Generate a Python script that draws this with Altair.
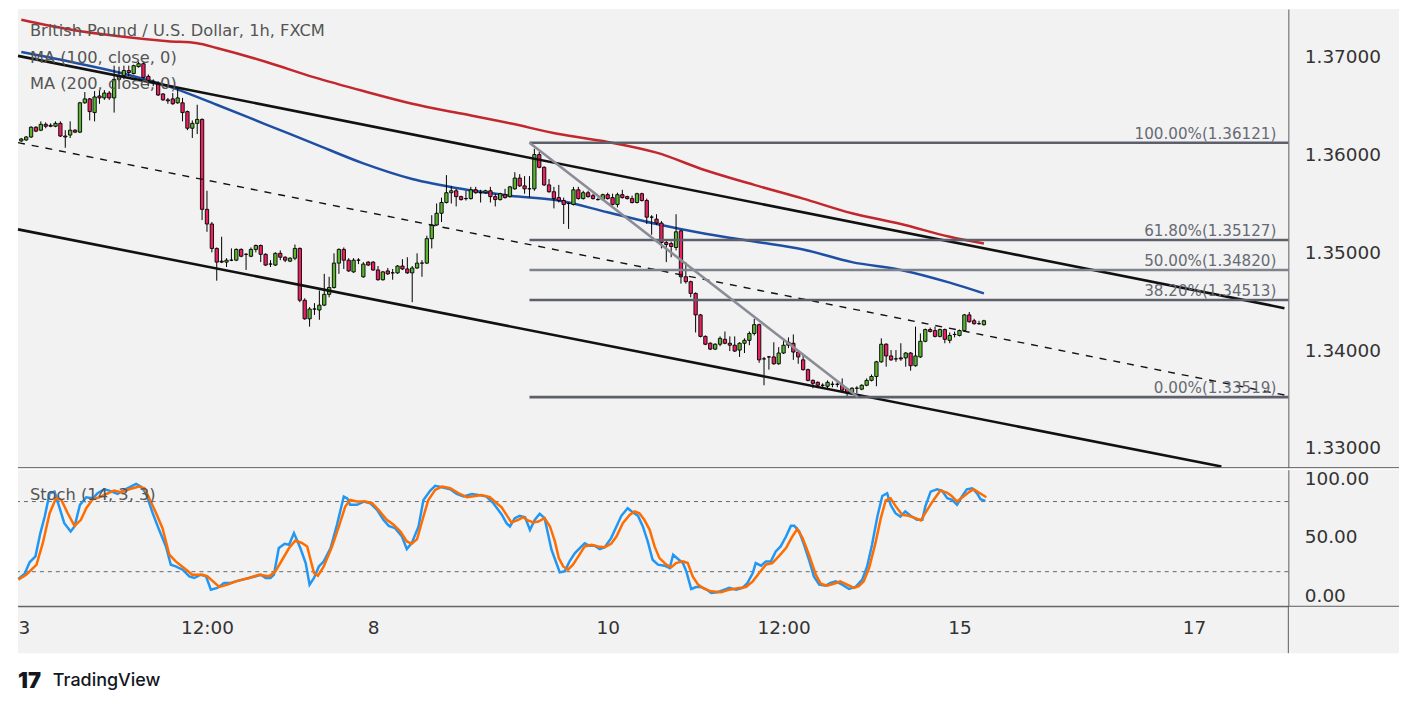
import altair as alt
import pandas as pd

# ---------------- data ----------------
OPEN = [1.3614, 1.3615, 1.3618, 1.3628, 1.3625, 1.3631, 1.3630, 1.3629, 1.3632, 1.3619,
        1.3620, 1.3625, 1.3623, 1.3653, 1.3657, 1.3643, 1.3660, 1.3658, 1.3663, 1.3658,
        1.3677, 1.3681, 1.3686, 1.3683, 1.3690, 1.3693, 1.3680, 1.3675, 1.3673, 1.3662,
        1.3656, 1.3657, 1.3653, 1.3653, 1.3644, 1.3627, 1.3632, 1.3636, 1.3544, 1.3529,
        1.3504, 1.3491, 1.3490, 1.3492, 1.3492, 1.3503, 1.3498, 1.3496, 1.3503, 1.3507,
        1.3498, 1.3488, 1.3487, 1.3499, 1.3495, 1.3491, 1.3494, 1.3504, 1.3451, 1.3432,
        1.3442, 1.3441, 1.3446, 1.3457, 1.3464, 1.3489, 1.3503, 1.3492, 1.3480, 1.3492,
        1.3475, 1.3490, 1.3490, 1.3482, 1.3472, 1.3481, 1.3479, 1.3479, 1.3486, 1.3483,
        1.3479, 1.3484, 1.3489, 1.3489, 1.3514, 1.3528, 1.3540, 1.3551, 1.3561, 1.3563,
        1.3557, 1.3555, 1.3555, 1.3564, 1.3561, 1.3561, 1.3563, 1.3557, 1.3554, 1.3559,
        1.3557, 1.3565, 1.3576, 1.3568, 1.3565, 1.3565, 1.3600, 1.3587, 1.3569, 1.3562,
        1.3556, 1.3553, 1.3550, 1.3549, 1.3564, 1.3555, 1.3561, 1.3558, 1.3554, 1.3554,
        1.3559, 1.3556, 1.3549, 1.3559, 1.3557, 1.3555, 1.3551, 1.3560, 1.3553, 1.3536,
        1.3534, 1.3530, 1.3510, 1.3509, 1.3505, 1.3522, 1.3475, 1.3470, 1.3458, 1.3436,
        1.3414, 1.3407, 1.3401, 1.3406, 1.3411, 1.3407, 1.3405, 1.3400, 1.3407, 1.3410,
        1.3417, 1.3426, 1.3391, 1.3393, 1.3393, 1.3386, 1.3397, 1.3405, 1.3407, 1.3398,
        1.3390, 1.3380, 1.3369, 1.3367, 1.3364, 1.3363, 1.3365, 1.3365, 1.3364, 1.3360,
        1.3356, 1.3361, 1.3360, 1.3364, 1.3369, 1.3373, 1.3388, 1.3406, 1.3394, 1.3391,
        1.3392, 1.3392, 1.3397, 1.3384, 1.3393, 1.3409, 1.3421, 1.3420, 1.3414, 1.3421,
        1.3410, 1.3416, 1.3415, 1.3420, 1.3436, 1.3430, 1.3427, 1.3426]
HIGH = [1.3617, 1.3619, 1.3629, 1.3629, 1.3634, 1.3633, 1.3632, 1.3634, 1.3634, 1.3625,
        1.3634, 1.3626, 1.3654, 1.3664, 1.3658, 1.3665, 1.3666, 1.3666, 1.3665, 1.3691,
        1.3690, 1.3691, 1.3691, 1.3692, 1.3695, 1.3695, 1.3682, 1.3677, 1.3675, 1.3663,
        1.3658, 1.3663, 1.3667, 1.3658, 1.3645, 1.3635, 1.3651, 1.3637, 1.3563, 1.3531,
        1.3505, 1.3516, 1.3494, 1.3504, 1.3504, 1.3504, 1.3499, 1.3505, 1.3508, 1.3508,
        1.3499, 1.3492, 1.3500, 1.3502, 1.3496, 1.3495, 1.3508, 1.3505, 1.3453, 1.3444,
        1.3448, 1.3461, 1.3478, 1.3475, 1.3499, 1.3504, 1.3505, 1.3494, 1.3494, 1.3494,
        1.3490, 1.3491, 1.3491, 1.3486, 1.3481, 1.3484, 1.3483, 1.3487, 1.3493, 1.3495,
        1.3486, 1.3499, 1.3492, 1.3517, 1.3538, 1.3550, 1.3556, 1.3579, 1.3568, 1.3565,
        1.3558, 1.3563, 1.3567, 1.3567, 1.3564, 1.3564, 1.3567, 1.3560, 1.3561, 1.3565,
        1.3568, 1.3582, 1.3580, 1.3578, 1.3578, 1.3606, 1.3603, 1.3588, 1.3575, 1.3567,
        1.3569, 1.3556, 1.3551, 1.3567, 1.3567, 1.3563, 1.3563, 1.3560, 1.3556, 1.3560,
        1.3561, 1.3560, 1.3561, 1.3564, 1.3558, 1.3558, 1.3561, 1.3561, 1.3555, 1.3538,
        1.3539, 1.3532, 1.3512, 1.3511, 1.3539, 1.3523, 1.3490, 1.3471, 1.3459, 1.3437,
        1.3415, 1.3408, 1.3407, 1.3414, 1.3419, 1.3414, 1.3414, 1.3408, 1.3412, 1.3419,
        1.3432, 1.3427, 1.3393, 1.3394, 1.3408, 1.3403, 1.3412, 1.3413, 1.3416, 1.3400,
        1.3396, 1.3381, 1.3370, 1.3368, 1.3366, 1.3369, 1.3368, 1.3368, 1.3371, 1.3361,
        1.3362, 1.3363, 1.3365, 1.3371, 1.3375, 1.3389, 1.3412, 1.3407, 1.3400, 1.3400,
        1.3407, 1.3398, 1.3398, 1.3424, 1.3417, 1.3422, 1.3423, 1.3424, 1.3422, 1.3422,
        1.3418, 1.3419, 1.3421, 1.3437, 1.3439, 1.3432, 1.3430, 1.3431]
LOW = [1.3613, 1.3614, 1.3617, 1.3623, 1.3624, 1.3627, 1.3628, 1.3628, 1.3618, 1.3607,
       1.3617, 1.3622, 1.3622, 1.3652, 1.3635, 1.3634, 1.3652, 1.3656, 1.3656, 1.3643,
       1.3675, 1.3677, 1.3680, 1.3682, 1.3689, 1.3678, 1.3670, 1.3670, 1.3660, 1.3655,
       1.3652, 1.3651, 1.3652, 1.3634, 1.3625, 1.3617, 1.3621, 1.3533, 1.3521, 1.3500,
       1.3471, 1.3489, 1.3485, 1.3491, 1.3491, 1.3495, 1.3482, 1.3495, 1.3500, 1.3490,
       1.3486, 1.3485, 1.3486, 1.3492, 1.3490, 1.3490, 1.3492, 1.3449, 1.3431, 1.3424,
       1.3436, 1.3431, 1.3445, 1.3454, 1.3463, 1.3478, 1.3483, 1.3480, 1.3479, 1.3488,
       1.3474, 1.3486, 1.3481, 1.3471, 1.3471, 1.3477, 1.3472, 1.3478, 1.3482, 1.3478,
       1.3449, 1.3483, 1.3475, 1.3488, 1.3504, 1.3527, 1.3531, 1.3550, 1.3550, 1.3547,
       1.3553, 1.3553, 1.3554, 1.3560, 1.3551, 1.3560, 1.3551, 1.3547, 1.3553, 1.3555,
       1.3556, 1.3564, 1.3567, 1.3560, 1.3556, 1.3563, 1.3586, 1.3568, 1.3561, 1.3545,
       1.3551, 1.3529, 1.3524, 1.3548, 1.3554, 1.3554, 1.3556, 1.3554, 1.3553, 1.3553,
       1.3554, 1.3548, 1.3546, 1.3555, 1.3554, 1.3550, 1.3550, 1.3552, 1.3529, 1.3518,
       1.3528, 1.3504, 1.3490, 1.3495, 1.3502, 1.3468, 1.3468, 1.3454, 1.3418, 1.3413,
       1.3405, 1.3400, 1.3400, 1.3404, 1.3406, 1.3399, 1.3398, 1.3393, 1.3397, 1.3405,
       1.3415, 1.3387, 1.3364, 1.3380, 1.3385, 1.3385, 1.3396, 1.3402, 1.3390, 1.3386,
       1.3379, 1.3368, 1.3361, 1.3361, 1.3361, 1.3360, 1.3362, 1.3362, 1.3358, 1.3352,
       1.3355, 1.3356, 1.3359, 1.3363, 1.3368, 1.3363, 1.3387, 1.3383, 1.3389, 1.3388,
       1.3389, 1.3383, 1.3379, 1.3383, 1.3392, 1.3408, 1.3418, 1.3413, 1.3413, 1.3407,
       1.3407, 1.3413, 1.3414, 1.3419, 1.3428, 1.3426, 1.3426, 1.3425]
CLOSE = [1.3616, 1.3618, 1.3628, 1.3624, 1.3631, 1.3629, 1.3629, 1.3632, 1.3619, 1.3618,
         1.3625, 1.3623, 1.3653, 1.3657, 1.3644, 1.3659, 1.3658, 1.3663, 1.3658, 1.3677,
         1.3680, 1.3686, 1.3684, 1.3691, 1.3693, 1.3679, 1.3676, 1.3674, 1.3661, 1.3656,
         1.3655, 1.3652, 1.3658, 1.3643, 1.3627, 1.3632, 1.3636, 1.3544, 1.3529, 1.3504,
         1.3490, 1.3490, 1.3492, 1.3492, 1.3503, 1.3496, 1.3498, 1.3503, 1.3507, 1.3498,
         1.3487, 1.3488, 1.3499, 1.3495, 1.3492, 1.3494, 1.3504, 1.3451, 1.3432, 1.3442,
         1.3442, 1.3446, 1.3457, 1.3464, 1.3489, 1.3503, 1.3492, 1.3481, 1.3492, 1.3492,
         1.3488, 1.3487, 1.3482, 1.3472, 1.3480, 1.3478, 1.3479, 1.3486, 1.3483, 1.3479,
         1.3484, 1.3489, 1.3489, 1.3514, 1.3528, 1.3540, 1.3551, 1.3561, 1.3563, 1.3557,
         1.3554, 1.3555, 1.3564, 1.3561, 1.3561, 1.3563, 1.3557, 1.3554, 1.3560, 1.3556,
         1.3567, 1.3576, 1.3568, 1.3565, 1.3565, 1.3600, 1.3587, 1.3569, 1.3562, 1.3555,
         1.3553, 1.3549, 1.3550, 1.3564, 1.3555, 1.3561, 1.3557, 1.3555, 1.3554, 1.3559,
         1.3555, 1.3549, 1.3559, 1.3556, 1.3555, 1.3551, 1.3560, 1.3553, 1.3536, 1.3536,
         1.3530, 1.3510, 1.3508, 1.3506, 1.3521, 1.3475, 1.3470, 1.3458, 1.3436, 1.3414,
         1.3406, 1.3401, 1.3406, 1.3412, 1.3407, 1.3405, 1.3399, 1.3407, 1.3410, 1.3417,
         1.3426, 1.3390, 1.3391, 1.3393, 1.3386, 1.3397, 1.3405, 1.3408, 1.3398, 1.3393,
         1.3380, 1.3369, 1.3366, 1.3364, 1.3364, 1.3367, 1.3365, 1.3365, 1.3359, 1.3356,
         1.3361, 1.3361, 1.3364, 1.3369, 1.3373, 1.3388, 1.3406, 1.3394, 1.3390, 1.3391,
         1.3391, 1.3397, 1.3384, 1.3394, 1.3409, 1.3421, 1.3419, 1.3414, 1.3421, 1.3411,
         1.3415, 1.3416, 1.3420, 1.3436, 1.3429, 1.3427, 1.3427, 1.3430]

MA100_IDX = [0, 10, 20, 30, 40, 50, 60, 70, 80, 90, 100, 110, 120, 130, 140, 150, 160, 170, 180, 190, 197]
MA100 = [1.3705, 1.3695, 1.3684, 1.3670, 1.3651, 1.3631, 1.3611, 1.3591, 1.3575, 1.3565, 1.3558,
         1.3553, 1.3541, 1.3529, 1.3519, 1.3511, 1.3503, 1.3490, 1.3482, 1.3469, 1.3458]
MA200_IDX = [0, 10, 20, 30, 36, 40, 50, 60, 70, 80, 90, 100, 110, 120, 130, 140, 150, 160, 170, 180, 190, 197]
MA200 = [1.3738, 1.3728, 1.3721, 1.3716, 1.3714, 1.3709, 1.3695, 1.3679, 1.3665, 1.3652, 1.3642,
         1.3632, 1.3621, 1.3613, 1.3602, 1.3584, 1.3569, 1.3555, 1.3540, 1.3529, 1.3516, 1.3509]

# channel (upper, middle dashed, lower): start / end bar index and prices
CH_X0 = [-0.67, -0.67, -0.67]
CH_X1 = [258.5, 258.5, 245.6]
CH_P0 = [1.37010, 1.36123, 1.35235]
CH_P1 = [1.34429, 1.33540, 1.32808]

FIB_PCT = ["100.00%", "61.80%", "50.00%", "38.20%", "0.00%"]
FIB_PRICE = [1.36121, 1.35127, 1.34820, 1.34513, 1.33519]
FIB_START = 104.0
FIB_DIAG_X = [104.0, 171.2]
FIB_DIAG_P = [1.36121, 1.33519]

K_IDX = [-0.6, 0.7, 1.7, 2.9, 3.9, 4.8, 5.8, 6.8, 8.8, 10.1,
         10.9, 12.0, 13.3, 14.6, 15.6, 17.0, 18.0, 19.7, 21.1, 22.4,
         23.5, 24.5, 25.5, 26.9, 28.2, 29.6, 30.6, 31.6, 33.0, 34.4,
         35.4, 36.7, 37.8, 38.8, 40.1, 41.5, 42.9, 43.9, 45.2, 46.6,
         48.0, 49.0, 50.0, 51.0, 51.7, 52.7, 53.9, 54.8, 55.8, 57.1,
         58.2, 59.0, 59.9, 60.9, 61.9, 63.3, 64.6, 66.0, 66.7, 67.3,
         68.7, 70.1, 71.4, 72.8, 74.1, 75.2, 76.5, 77.9, 78.9, 79.9,
         81.3, 82.3, 83.7, 84.7, 86.1, 87.8, 89.1, 90.5, 92.2, 93.5,
         95.2, 96.6, 98.3, 99.3, 100.0, 101.0, 102.0, 103.1, 104.1, 105.1,
         106.1, 107.1, 108.5, 109.5, 110.2, 111.2, 112.2, 113.3, 114.3, 115.3,
         116.3, 117.3, 118.4, 119.4, 120.7, 121.8, 122.8, 124.1, 125.2, 126.2,
         127.2, 128.2, 129.2, 130.3, 131.6, 132.7, 133.4, 134.4, 135.4, 136.1,
         137.1, 138.1, 139.1, 140.1, 141.2, 142.5, 143.9, 144.9, 146.3, 147.6,
         148.6, 149.7, 150.3, 151.4, 152.4, 153.4, 154.4, 155.4, 156.5, 157.5,
         158.2, 159.2, 160.2, 161.2, 162.2, 163.3, 164.6, 165.6, 166.7, 168.0,
         169.4, 170.7, 172.1, 173.1, 174.1, 175.2, 176.2, 177.2, 177.9, 178.9,
         179.9, 180.9, 182.0, 183.3, 184.4, 185.0, 186.1, 187.4, 188.4, 189.5,
         190.5, 191.5, 192.5, 193.5, 194.6, 195.6, 196.3, 197.3]
K_VAL = [13.7, 18.3, 28, 33.1, 53, 67.2, 87.1, 88.5, 61.5, 54.4,
         58.7, 77.2, 83.7, 82.8, 87.1, 90.5, 89.4, 86.5, 90, 92.8,
         95.1, 92.8, 87.1, 70, 55.8, 41.6, 25.9, 24.5, 21.7, 16,
         14.6, 17.4, 16, 4.6, 6.1, 10.3, 10.3, 11.7, 13.2, 14.6,
         16, 17.4, 14.6, 14.6, 17.4, 40.2, 43.9, 43, 53, 40.2,
         27.4, 8.9, 14.6, 24.5, 28.8, 40.2, 60.1, 84.3, 82.8, 77.2,
         77.2, 80, 78.6, 72.9, 64.4, 59.2, 57.2, 50.1, 39.3, 44.4,
         58.7, 81.4, 89.4, 93.4, 92.2, 90.5, 86.5, 84.3, 86.5, 85.7,
         84.3, 78.6, 69, 61.5, 58.7, 65.8, 67.8, 66.6, 55.8, 64.4,
         69.5, 65.8, 38.8, 27.4, 19.4, 20.3, 28.8, 35.9, 40.2, 44.4,
         42.2, 42.2, 39.3, 41, 48.7, 58.7, 67.8, 74.3, 70.6, 67.8,
         58.7, 45.9, 30.2, 26, 25.1, 23.1, 34.5, 30.8, 27.4, 20.3,
         5.2, 6.9, 6.9, 5.2, 1.8, 2.4, 4.6, 6.1, 4.6, 6.1,
         10.3, 18.8, 27.4, 25.1, 28.8, 28.8, 37.3, 41.6, 50.1, 59.2,
         59.2, 54.4, 43, 30.2, 16, 8.9, 8, 10.3, 11.7, 8.9,
         5.2, 6.9, 13.2, 24.5, 43, 67.2, 84.8, 87.1, 77.2, 70,
         67.2, 71.5, 67.8, 64.4, 64.4, 75.7, 88.5, 90.5, 89.4, 82.8,
         81.4, 77.2, 84.3, 90.5, 91.4, 87.1, 82, 80.6]
D_IDX = [-0.6, 1.0, 3.1, 4.4, 5.8, 7.1, 8.2, 9.5, 10.9, 12.2,
         13.3, 14.6, 16.0, 17.7, 19.0, 20.4, 22.1, 24.1, 25.2, 26.2,
         27.6, 28.9, 30.3, 31.6, 33.3, 35.0, 37.1, 38.1, 40.5, 42.2,
         43.9, 46.6, 48.6, 50.7, 52.0, 53.4, 54.8, 56.1, 57.5, 58.5,
         59.9, 60.7, 61.9, 63.6, 65.0, 66.3, 67.3, 68.7, 70.4, 71.8,
         73.1, 74.8, 76.2, 77.6, 78.9, 79.9, 81.0, 82.3, 83.3, 84.7,
         86.1, 87.8, 89.5, 91.2, 92.9, 94.2, 95.9, 97.3, 98.3, 99.3,
         100.3, 101.7, 102.7, 103.7, 104.8, 105.8, 107.1, 108.2, 109.2, 110.0,
         110.9, 111.9, 112.9, 114.0, 115.3, 116.7, 118.0, 119.4, 120.7, 121.8,
         123.1, 124.5, 125.5, 126.5, 127.5, 128.6, 129.6, 130.6, 132.0, 133.0,
         134.0, 135.4, 136.4, 137.4, 138.5, 139.8, 141.2, 143.2, 144.9, 146.6,
         148.3, 149.7, 151.0, 152.4, 153.7, 155.1, 156.5, 157.8, 158.8, 159.9,
         161.2, 162.6, 163.6, 164.9, 166.3, 167.6, 169.0, 170.4, 171.4, 172.4,
         173.5, 174.8, 175.9, 176.9, 177.9, 178.9, 180.3, 181.6, 183.0, 184.1,
         185.4, 186.7, 188.1, 189.4, 190.4, 191.5, 192.8, 194.1, 194.9, 196.2,
         197.5]
D_VAL = [13.2, 17.4, 25.9, 44.4, 70, 82.8, 81.4, 70, 59.2, 64.4,
         74.3, 82, 83.7, 87.1, 89.4, 88, 90.5, 92.8, 91.4, 82.8,
         70, 57.2, 34.5, 28.8, 23.1, 17.4, 17.4, 16, 6.9, 8.9,
         11.7, 14.6, 17.4, 16, 20.3, 30.2, 40.2, 46.7, 44.4, 41.6,
         18.8, 16.6, 24.5, 41.6, 58.7, 75.7, 81.4, 80, 80, 78.6,
         72.9, 64.4, 60.1, 54.4, 45.9, 43.9, 47.9, 67.2, 81.4, 90,
         92.8, 91.4, 87.1, 83.7, 84.8, 85.7, 83.7, 78.6, 75, 68.6,
         62.1, 64.4, 66.6, 63.8, 62.1, 62.9, 65.8, 58.7, 45.9, 31.6,
         24.5, 21.7, 26, 33.1, 41.6, 43, 41.6, 41, 43.9, 50.1,
         61.5, 68.6, 71.5, 70, 64.4, 55.8, 41.6, 31.6, 26, 23.7,
         27.4, 28.8, 27.4, 16, 8.9, 5.2, 3.2, 2.4, 4.6, 5.8,
         6.9, 11.7, 18.8, 26, 27.4, 33.6, 40.2, 50.1, 56.4, 48.7,
         34.5, 17.4, 9.7, 8, 9.7, 11.7, 8.9, 6.1, 7.5, 11.7,
         23.1, 44.4, 65.8, 80.9, 82.8, 76.3, 68.6, 67.8, 65.8, 63.8,
         72.9, 81.4, 89.4, 87.7, 84.8, 80, 84.3, 88.5, 90.5, 87.1,
         83.7]

PRICE_TICKS = [1.33, 1.34, 1.35, 1.36, 1.37]
STOCH_TICKS = [0, 50, 100]
STOCH_LEVELS = [80, 20]
TICK_POS = [0.5, 38, 72, 120, 156, 192, 240]
TICK_LBL = ["3", "12:00", "8", "10", "12:00", "15", "17"]

TITLE = "British Pound / U.S. Dollar, 1h, FXCM"
LEG1 = "MA (100, close, 0)"
LEG2 = "MA (200, close, 0)"
LEG3 = "Stoch (14, 3, 3)"

# ---------------- styling / layout ----------------
W, H1, H2 = 1274, 460, 137
AXW = 111
BG = "#f2f2f2"
GREEN = "#5bb531"
RED = "#ec2160"
FONT = "DejaVu Sans"
AXC = "#5d5d5d"
LBL = "#333333"
AXFS = 18.5
X_DOM = [-0.68, 259.3]
P_DOM = [1.32797, 1.37490]
S_DOM = [-9.6, 107.3]

xsc = alt.Scale(domain=X_DOM, nice=False, zero=False)
psc = alt.Scale(domain=P_DOM, nice=False, zero=False)
ssc = alt.Scale(domain=S_DOM, nice=False, zero=False)

p_axis = alt.Axis(orient="right", values=PRICE_TICKS, format=".5f", title=None,
                  labelFontSize=AXFS, labelFont=FONT, labelColor=LBL, labelPadding=16,
                  ticks=False, tickSize=0, domain=True, domainColor=AXC, domainWidth=1,
                  grid=False, labelOverlap=False, zindex=1)
s_axis = alt.Axis(orient="right", values=STOCH_TICKS, format=".2f", title=None,
                  labelFontSize=AXFS, labelFont=FONT, labelColor=LBL, labelPadding=16,
                  ticks=False, tickSize=0, domain=True, domainColor=AXC, domainWidth=1,
                  grid=False, labelOverlap=False, zindex=1)

expr = "''"
for p, l in reversed(list(zip(TICK_POS, TICK_LBL))):
    expr = f"datum.value == {p} ? '{l}' : ({expr})"
x_axis = alt.Axis(values=TICK_POS, labelExpr=expr, title=None, labelFontSize=AXFS,
                  labelFont=FONT, labelColor=LBL, labelPadding=12, ticks=False,
                  tickSize=0, domain=True, domainColor=AXC, domainWidth=1, grid=False,
                  labelOverlap=False, labelFlush=False, zindex=1)


def PX(f):
    return alt.X(f, type="quantitative", scale=xsc, axis=None)


def BX(f):
    return alt.X(f, type="quantitative", scale=xsc, axis=x_axis)


def PY(f):
    return alt.Y(f, type="quantitative", scale=psc, axis=p_axis)


def SY(f):
    return alt.Y(f, type="quantitative", scale=ssc, axis=s_axis)


one = pd.DataFrame({"a": [0]})

candles = pd.DataFrame({"i": list(range(len(OPEN))), "open": OPEN, "high": HIGH,
                        "low": LOW, "close": CLOSE})
candles["x1"] = candles["i"] - 0.34
candles["x2"] = candles["i"] + 0.34

ma100 = pd.DataFrame({"i": MA100_IDX, "v": MA100})
ma200 = pd.DataFrame({"i": MA200_IDX, "v": MA200})
chan = pd.DataFrame({"x0": CH_X0, "x1": CH_X1, "p0": CH_P0, "p1": CH_P1,
                     "kind": ["solid", "dash", "solid"]})
fib = pd.DataFrame({"pct": FIB_PCT, "price": FIB_PRICE})
fib["start"] = FIB_START
fib["end"] = X_DOM[1]
fib["label"] = [f"{a}({b:.5f})" for a, b in zip(FIB_PCT, FIB_PRICE)]
fib["col"] = ["#5d606b", "#5d606b", "#7f828c", "#5d606b", "#5d606b"]
fdiag = pd.DataFrame({"x0": [FIB_DIAG_X[0]], "x1": [FIB_DIAG_X[1]],
                      "p0": [FIB_DIAG_P[0]], "p1": [FIB_DIAG_P[1]]})

# ---------------- price panel ----------------
bg1 = alt.Chart(one).mark_rect(color=BG).encode(
    x=alt.value(0), x2=alt.value(W + AXW), y=alt.value(0), y2=alt.value(H1))

l_ma200 = alt.Chart(ma200).mark_line(color="#c1272d", strokeWidth=2.5, interpolate="monotone").encode(
    x=PX("i"), y=PY("v"))
l_ma100 = alt.Chart(ma100).mark_line(color="#1e4fa3", strokeWidth=2.5, interpolate="monotone").encode(
    x=PX("i"), y=PY("v"))

wicks = alt.Chart(candles).mark_rule(color="#000000", strokeWidth=1).encode(
    x=PX("i"), y=PY("low"), y2="high")
bodies = alt.Chart(candles).mark_rect(stroke="#000000", strokeWidth=0.9).encode(
    x=PX("x1"), x2="x2", y=PY("open"), y2="close",
    color=alt.condition("datum.close >= datum.open", alt.value(GREEN), alt.value(RED)))

ch_solid = alt.Chart(chan).transform_filter("datum.kind == 'solid'").mark_rule(
    color="#111111", strokeWidth=2.6).encode(x=PX("x0"), x2="x1", y=PY("p0"), y2="p1")
ch_dash = alt.Chart(chan).transform_filter("datum.kind == 'dash'").mark_rule(
    color="#111111", strokeWidth=1.4, strokeDash=[7, 7]).encode(x=PX("x0"), x2="x1", y=PY("p0"), y2="p1")

fib_lines = alt.Chart(fib).mark_rule(strokeWidth=2.6).encode(
    x=PX("start"), x2="end", y=PY("price"), color=alt.Color("col:N", scale=None))
fib_diag = alt.Chart(fdiag).mark_rule(color="#8a8d96", strokeWidth=2.6).encode(
    x=PX("x0"), x2="x1", y=PY("p0"), y2="p1")
fib_text = alt.Chart(fib).mark_text(align="right", baseline="alphabetic", dy=-4, fontSize=15.2,
                                    font=FONT, color="#676a74").encode(
    x=alt.value(1262), y=PY("price"), text="label:N")

LEGFS = 16.3
t1 = alt.Chart(one).mark_text(text=TITLE, align="left", baseline="alphabetic", fontSize=LEGFS,
                              font=FONT, color="#555555").encode(x=alt.value(12), y=alt.value(27))
t2 = alt.Chart(one).mark_text(text=LEG1, align="left", baseline="alphabetic", fontSize=LEGFS,
                              font=FONT, color="#555555").encode(x=alt.value(12), y=alt.value(54))
t3 = alt.Chart(one).mark_text(text=LEG2, align="left", baseline="alphabetic", fontSize=LEGFS,
                              font=FONT, color="#555555").encode(x=alt.value(12), y=alt.value(80))

sep1 = alt.Chart(one).mark_rule(color=AXC, strokeWidth=1).encode(
    x=alt.value(0), x2=alt.value(W + AXW), y=alt.value(H1))

top = alt.layer(bg1, l_ma200, l_ma100, wicks, bodies, ch_solid, ch_dash, fib_lines, fib_diag,
                fib_text, t1, t2, t3, sep1).properties(width=W, height=H1)

# ---------------- stochastic panel ----------------
kdf = pd.DataFrame({"i": K_IDX, "v": K_VAL})
ddf = pd.DataFrame({"i": D_IDX, "v": D_VAL})
lev = pd.DataFrame({"v": STOCH_LEVELS})

bg2 = alt.Chart(one).mark_rect(color=BG).encode(
    x=alt.value(0), x2=alt.value(W + AXW), y=alt.value(0), y2=alt.value(H2 + 47))
levels = alt.Chart(lev).mark_rule(color="#666666", strokeWidth=1, strokeDash=[4, 4]).encode(y=SY("v"))
kline = alt.Chart(kdf).mark_line(color="#2196f3", strokeWidth=2.5).encode(x=BX("i"), y=SY("v"))
dline = alt.Chart(ddf).mark_line(color="#ff6d00", strokeWidth=2.5).encode(x=BX("i"), y=SY("v"))
t4 = alt.Chart(one).mark_text(text=LEG3, align="left", baseline="alphabetic", fontSize=LEGFS,
                              font=FONT, color="#555555").encode(x=alt.value(12), y=alt.value(30))
sep2 = alt.Chart(one).mark_rule(color=AXC, strokeWidth=1).encode(
    x=alt.value(0), x2=alt.value(W + AXW), y=alt.value(H2))
vsep = alt.Chart(one).mark_rule(color=AXC, strokeWidth=1).encode(
    x=alt.value(W), y=alt.value(H2), y2=alt.value(H2 + 47))
logo_icon = alt.Chart(one).mark_text(text="17", align="left", baseline="middle", fontSize=22,
                                     font="Inter", fontWeight=900, color="#131722").encode(
    x=alt.value(0), y=alt.value(212))
logo_txt = alt.Chart(one).mark_text(text="TradingView", align="left", baseline="middle", fontSize=18,
                                    font="Inter", fontWeight=500, color="#131722").encode(
    x=alt.value(35), y=alt.value(212))

bottom = alt.layer(bg2, levels, kline, dline, t4, sep2, vsep, logo_icon, logo_txt).properties(
    width=W, height=H2)

chart = alt.vconcat(top, bottom, spacing=0).properties(
    padding={"left": 5, "top": 0, "right": 5, "bottom": 0}, background="white"
).configure_view(stroke=None)

chart.save("out.html", embed_options={"renderer": "svg", "actions": False})
